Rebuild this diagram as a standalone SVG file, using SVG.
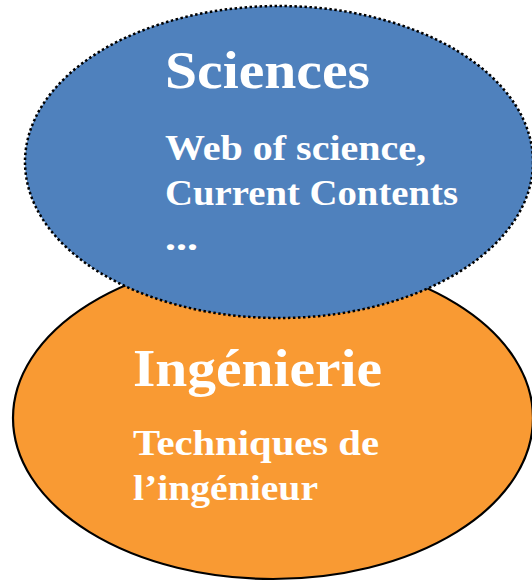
<svg xmlns="http://www.w3.org/2000/svg" width="532" height="581" viewBox="0 0 532 581">
<style>
.t{font-family:"Liberation Serif","DejaVu Serif",serif;font-weight:bold;fill:#ffffff}
.h{font-size:53px}
.s{font-size:36px}
</style>
<rect width="532" height="581" fill="#ffffff"/>
<g id="ingenierie">
<ellipse cx="273" cy="418" rx="260" ry="161" fill="#F99A33" stroke="#000" stroke-width="2.2"/>
<text class="t h" x="133" y="386" textLength="249" lengthAdjust="spacingAndGlyphs">Ingénierie</text>
<text class="t s" x="133" y="455" textLength="246" lengthAdjust="spacingAndGlyphs">Techniques de</text>
<text class="t s" x="133" y="500" textLength="185" lengthAdjust="spacingAndGlyphs">l’ingénieur</text>
</g>
<g id="sciences">
<ellipse cx="279" cy="162" rx="254" ry="156" fill="#4F81BD" stroke="#000" stroke-width="2.5" stroke-dasharray="2.5 2.5"/>
<text class="t h" x="165" y="88" textLength="205" lengthAdjust="spacingAndGlyphs">Sciences</text>
<text class="t s" x="165" y="160" textLength="261" lengthAdjust="spacingAndGlyphs">Web of science,</text>
<text class="t s" x="165" y="205" textLength="293" lengthAdjust="spacingAndGlyphs">Current Contents</text>
<text class="t s" x="165" y="250" textLength="33" lengthAdjust="spacingAndGlyphs">...</text>
</g>
</svg>
